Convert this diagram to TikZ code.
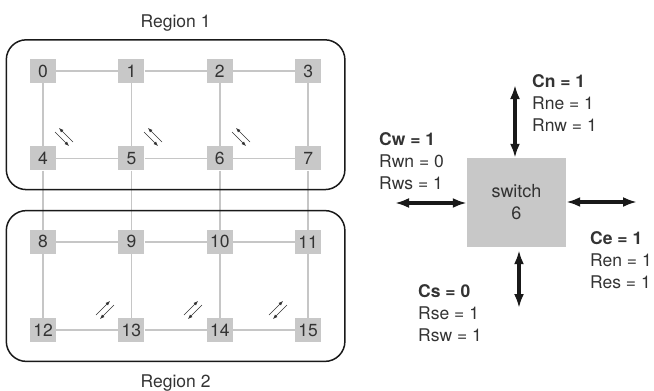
\documentclass[tikz,border=0pt]{standalone}
\usepackage{fontspec}
\setmainfont{TeX Gyre Heros}
\usetikzlibrary{arrows.meta,positioning,fit}
\definecolor{routerGray}{HTML}{C8C8C8}
\definecolor{linkGray}{HTML}{C6C6C6}
\definecolor{inkGray}{HTML}{333333}
\tikzset{
  router node/.style={fill=routerGray,minimum width=26pt,minimum height=24pt,
    inner sep=0pt,text=inkGray,font=\fontsize{17.5}{20}\selectfont},
  link line/.style={draw=linkGray,line width=1.6pt},
  region box/.style={draw=black!90,line width=1.5pt,rounded corners=20pt,
    inner xsep=23.5pt,inner ysep=19pt},
  region label/.style={inner sep=0pt,text=inkGray,font=\fontsize{17.5}{20}\selectfont},
  flit arrow/.style={-{Latex[length=4.5pt,width=3.5pt]},draw=black!80,line width=0.6pt},
  port arrow/.style={{Latex[length=14pt,width=10pt]}-{Latex[length=14pt,width=10pt]},
    draw=black!90,line width=3.2pt},
  switch node/.style={fill=routerGray,minimum width=99pt,minimum height=89pt,
    align=center,text=inkGray,font=\fontsize{18}{22}\selectfont},
  port label/.style={anchor=north west,inner sep=0pt,align=left,text=inkGray,
    font=\fontsize{17.5}{22}\selectfont}
}

\begin{document}
\begin{tikzpicture}[x=1pt,y=-1pt,node distance=63pt and 62pt]
    \useasboundingbox (0,0) rectangle (654,391);
    \node[router node] (r0) at (43,71) {0};
    \node[router node,right=of r0] (r1) {1};
    \node[router node,right=of r1] (r2) {2};
    \node[router node,right=of r2] (r3) {3};
    \node[router node,below=of r0] (r4) {4};
    \node[router node,right=of r4] (r5) {5};
    \node[router node,right=of r5] (r6) {6};
    \node[router node,right=of r6] (r7) {7};
    \node[router node,below=59pt of r4] (r8) {8};
    \node[router node,right=of r8] (r9) {9};
    \node[router node,right=of r9] (r10) {10};
    \node[router node,right=of r10] (r11) {11};
    \node[router node,below=64pt of r8] (r12) {12};
    \node[router node,right=of r12] (r13) {13};
    \node[router node,right=of r13] (r14) {14};
    \node[router node,right=of r14] (r15) {15};
    \draw[link line] (r0) -- (r1) -- (r2) -- (r3);
    \draw[link line] (r4) -- (r5) -- (r6) -- (r7);
    \draw[link line] (r8) -- (r9) -- (r10) -- (r11);
    \draw[link line] (r12) -- (r13) -- (r14) -- (r15);
    \draw[link line] (r0) -- (r4) -- (r8) -- (r12);
    \draw[link line] (r1) -- (r5) -- (r9) -- (r13);
    \draw[link line] (r2) -- (r6) -- (r10) -- (r14);
    \draw[link line] (r3) -- (r7) -- (r11) -- (r15);
    \node[region box,fit=(r0) (r7)] (reg1) {};
    \node[region box,fit=(r8) (r15)] (reg2) {};
    \node[region label,above=8pt of reg1] (reg1lbl) {Region 1};
    \node[region label,below=12pt of reg2] (reg2lbl) {Region 2};
    \coordinate (f1) at (64,137);
    \coordinate (f2) at (153,137);
    \coordinate (f3) at (241,137);
    \coordinate (f4) at (105,310);
    \coordinate (f5) at (193,310);
    \coordinate (f6) at (278,310);
    \draw[flit arrow,shift={(f1)}] (9,5) -- (-5,-9);
    \draw[flit arrow,shift={(f1)}] (-9,-5) -- (5,9);
    \draw[flit arrow,shift={(f2)}] (9,5) -- (-5,-9);
    \draw[flit arrow,shift={(f2)}] (-9,-5) -- (5,9);
    \draw[flit arrow,shift={(f3)}] (9,5) -- (-5,-9);
    \draw[flit arrow,shift={(f3)}] (-9,-5) -- (5,9);
    \draw[flit arrow,shift={(f4)}] (-9,5) -- (5,-9);
    \draw[flit arrow,shift={(f4)}] (9,-5) -- (-5,9);
    \draw[flit arrow,shift={(f5)}] (-9,5) -- (5,-9);
    \draw[flit arrow,shift={(f5)}] (9,-5) -- (-5,9);
    \draw[flit arrow,shift={(f6)}] (-9,5) -- (5,-9);
    \draw[flit arrow,shift={(f6)}] (9,-5) -- (-5,9);
    \node[switch node] (sw) at (516.5,202.5) {switch\\6};
    \coordinate (nEnd) at (515,85);
    \coordinate (wEnd) at (395,203);
    \coordinate (eEnd) at (637,202);
    \coordinate (sEnd) at (519,308);
    \draw[port arrow] (nEnd) -- (nEnd |- sw.north);
    \draw[port arrow] (wEnd) -- (wEnd -| sw.west);
    \draw[port arrow] (eEnd -| sw.east) -- (eEnd);
    \draw[port arrow,shorten <=3pt] (sEnd |- sw.south) -- (sEnd);
    \node[port label] (nLbl) at (532,74) {\textbf{Cn = 1}\\Rne = 1\\Rnw = 1};
    \node[port label] (wLbl) at (379,132) {\textbf{Cw = 1}\\Rwn = 0\\Rws = 1};
    \node[port label] (eLbl) at (590,231) {\textbf{Ce = 1}\\Ren = 1\\Res = 1};
    \node[port label] (sLbl) at (418,284) {\textbf{Cs = 0}\\Rse = 1\\Rsw = 1};
  \end{tikzpicture}
\end{document}
